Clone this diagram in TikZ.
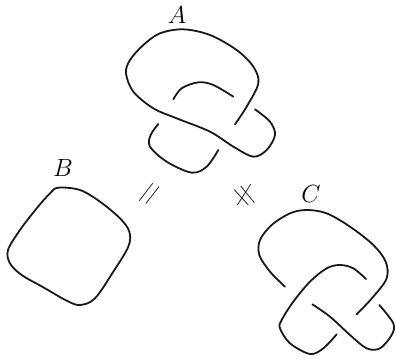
\documentclass[tikz,border=0pt]{standalone}
\tikzset{
  strand/.style={line width=1.8pt,line cap=round,line join=round,black!90},
  tick/.style={line width=0.8pt,black!85},
  lbl/.style={inner sep=0pt,font=\fontsize{23}{23}\selectfont}
}
\begin{document}
\begin{tikzpicture}[x=1pt,y=-1pt]
\useasboundingbox (0,0) rectangle (395,360);
\begin{scope}[shift={(110,0)},x=0.3333pt,y=-0.3333pt]
\draw[strand] plot[smooth,tension=0.55] coordinates {(375,373) (410,320) (445,250) (430,200) (380,150) (300,105) (220,88) (150,100) (100,135) (60,180) (48,220) (70,275) (130,325) (200,355) (300,395) (370,440) (430,470) (470,450) (495,405) (480,365) (435,328)};
\draw[strand] plot[smooth,tension=0.55] coordinates {(190,298) (215,265) (265,247) (310,255) (370,290)};
\draw[strand] plot[smooth,tension=0.55] coordinates {(145,372) (122,405) (120,440) (170,485) (245,518) (290,500) (325,450)};
\end{scope}
\begin{scope}[shift={(240,180)},x=0.3333pt,y=-0.3333pt]
\draw[strand] plot[smooth,tension=0.55] coordinates {(135,320) (90,275) (58,225) (60,180) (95,135) (150,100) (200,90) (260,100) (330,140) (400,195) (437,245) (440,295) (400,350) (350,403)};
\draw[strand] plot[smooth,tension=0.55] coordinates {(378,297) (340,265) (300,255) (260,265) (210,305) (160,365) (125,420) (120,445) (150,490) (210,522) (250,505) (290,463)};
\draw[strand] plot[smooth,tension=0.55] coordinates {(217,373) (270,410) (330,465) (380,505) (420,505) (455,465) (460,430) (418,375)};
\end{scope}
\begin{scope}[shift={(0,150)},x=0.3333pt,y=-0.3333pt]
\draw[strand] plot[smooth cycle,tension=0.55] coordinates {(175,113) (240,120) (300,155) (360,205) (388,245) (385,290) (340,365) (285,445) (240,465) (200,452) (130,412) (65,375) (30,340) (24,300) (60,240) (110,175) (150,130)};
\draw[tick] (418,152) -- (458,100);
\draw[tick] (438,160) -- (477,110);
\draw[tick] (702,118) -- (745,165);
\draw[tick] (722,108) -- (763,158);
\draw[tick] (712,165) -- (752,103);
\end{scope}
\node[lbl] (labA) at (177,15) {$A$};
\node[lbl] (labB) at (63,168) {$B$};
\node[lbl] (labC) at (311,194) {$C$};
\end{tikzpicture}
\end{document}
